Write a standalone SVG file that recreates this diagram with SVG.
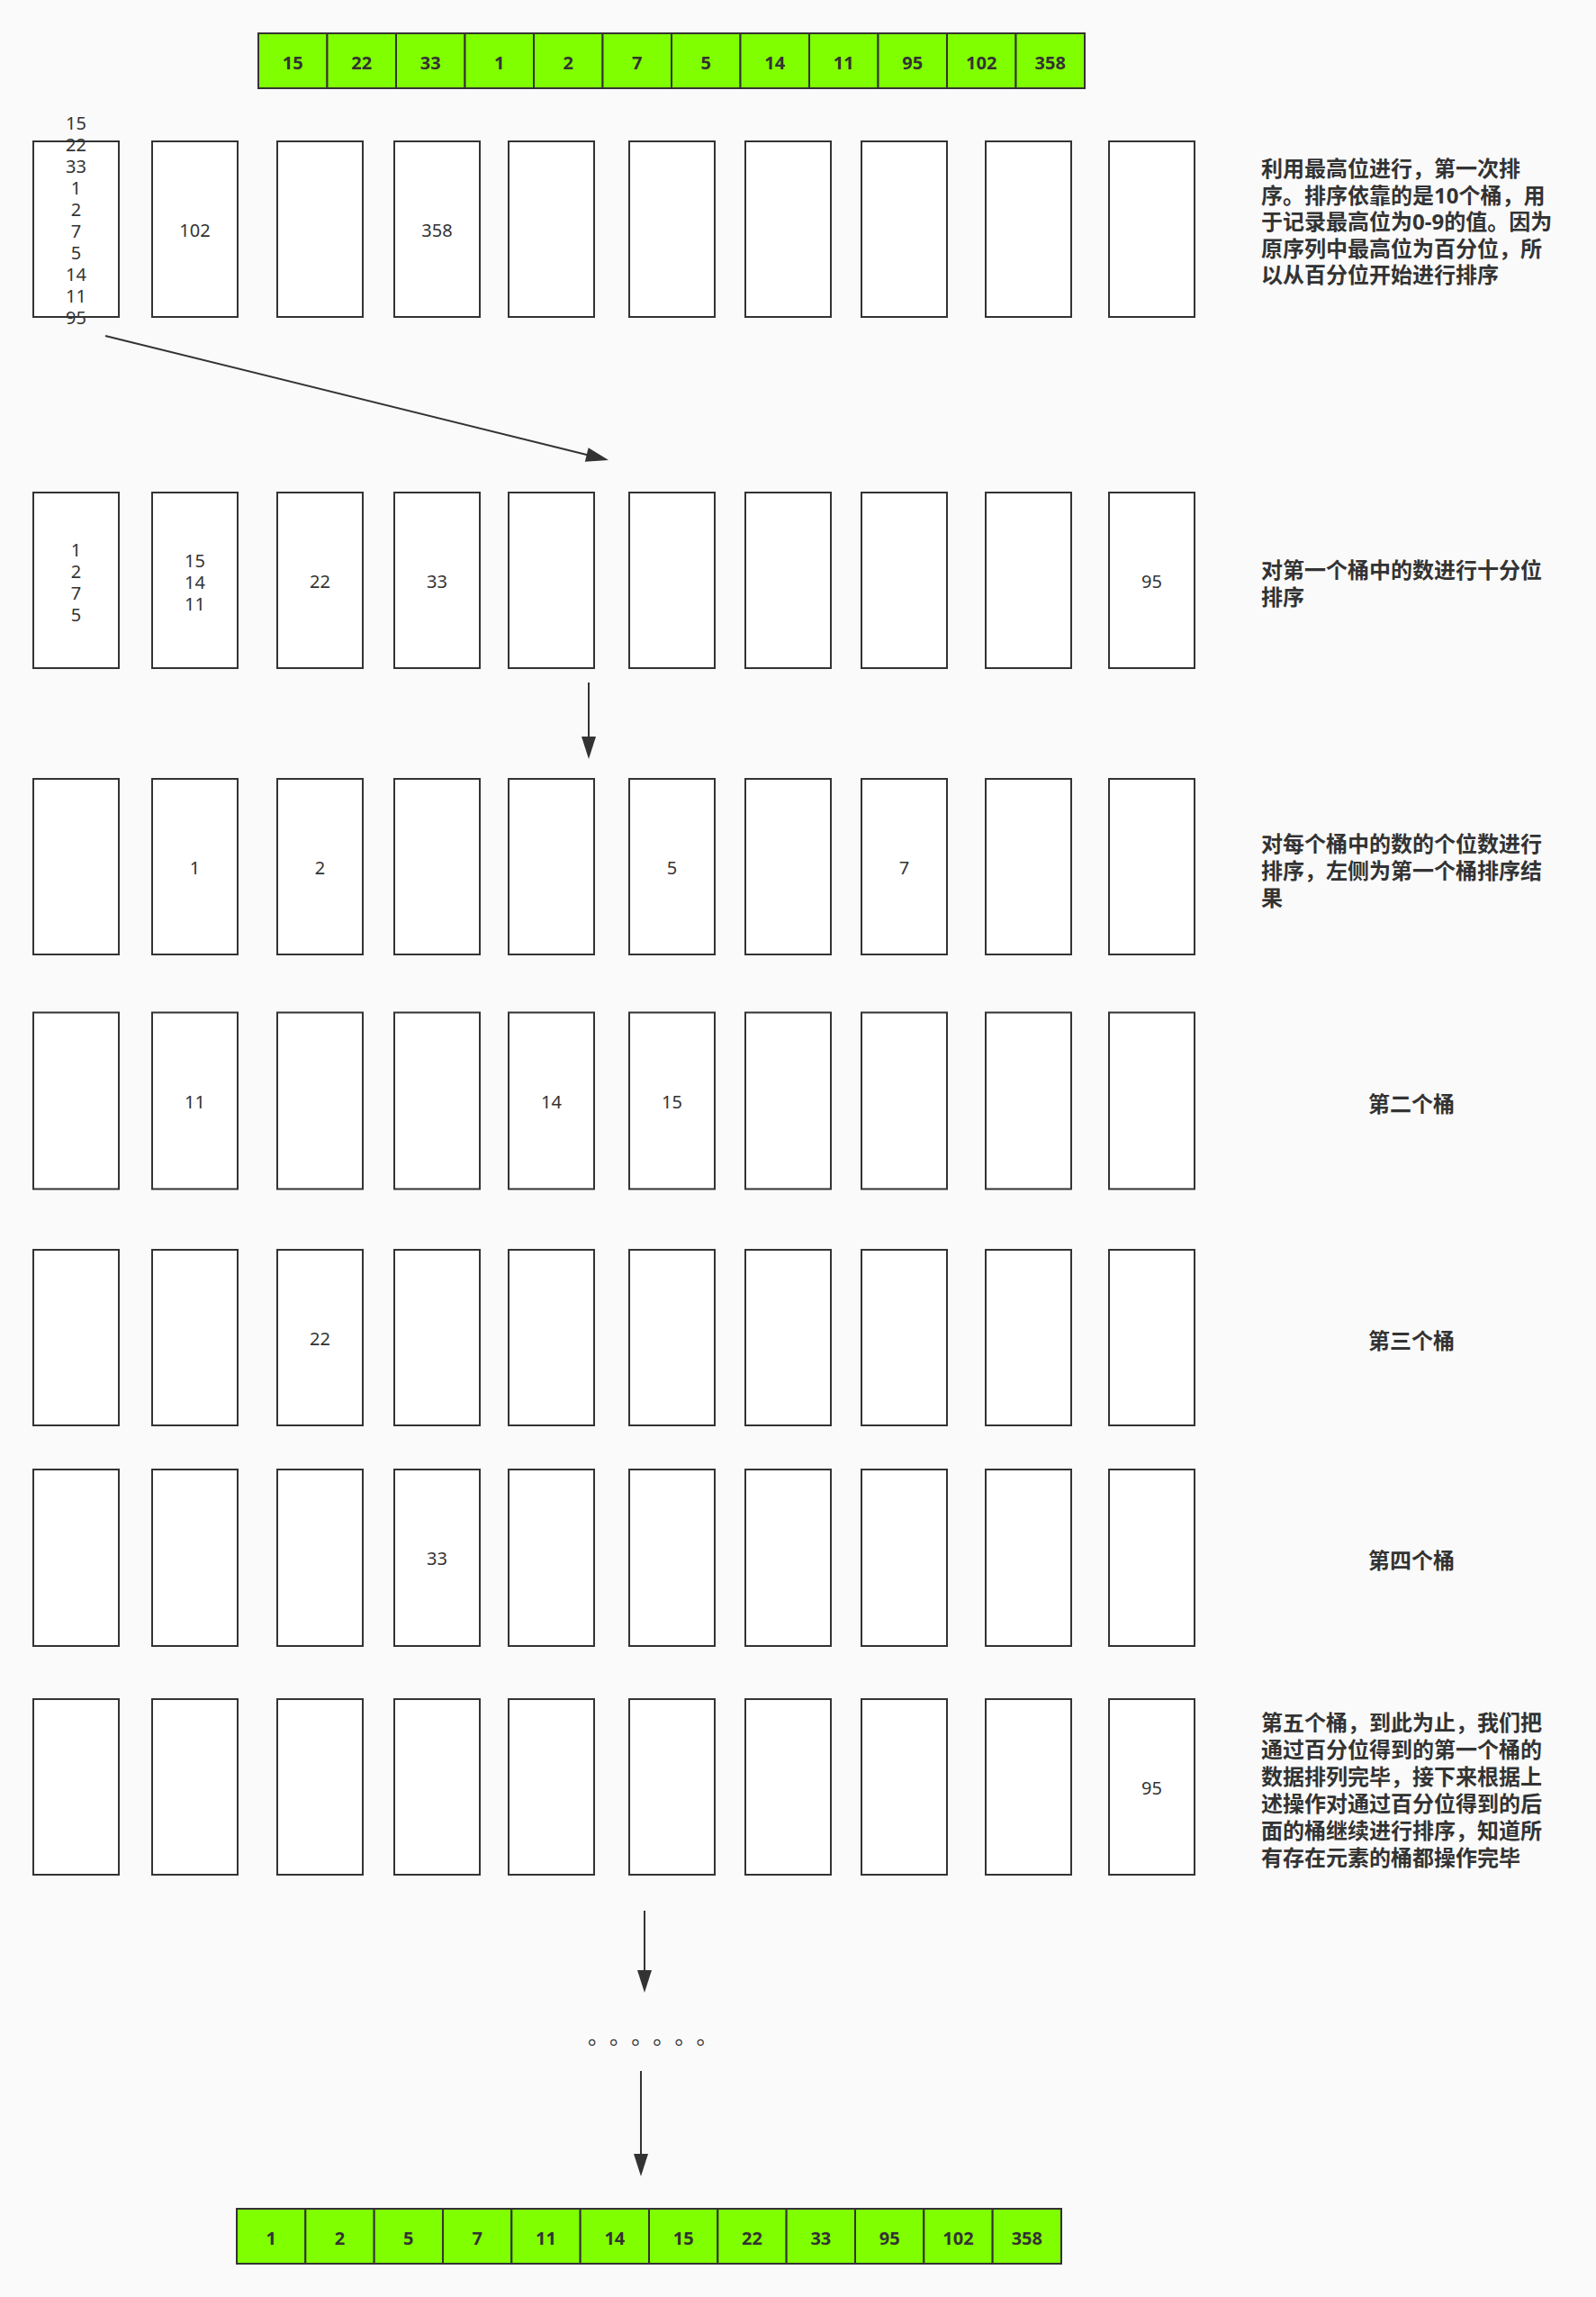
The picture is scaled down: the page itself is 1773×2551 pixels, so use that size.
<svg xmlns="http://www.w3.org/2000/svg" width="1773" height="2551" viewBox="0 0 1773 2551">
<style>
.bg{fill:#fafafa}
.box{fill:#ffffff;stroke:#333333;stroke-width:2}
.cell{fill:#80ff00;stroke:#333333;stroke-width:2}
.num{font-family:"Noto Sans","Noto Sans CJK SC",sans-serif;font-size:20px;fill:#333333;text-anchor:middle}
.cnum{font-family:"Noto Sans","Noto Sans CJK SC",sans-serif;font-size:20px;font-weight:bold;fill:#333333;text-anchor:middle}
.note{font-family:"Noto Sans","Noto Sans CJK SC",sans-serif;font-size:24px;font-weight:bold;fill:#333333}
.mid{text-anchor:middle}
.dots{font-family:"Noto Sans CJK SC",sans-serif;font-size:24px;fill:#333333}
.conn{stroke:#333333;stroke-width:2;fill:none}
</style>
<defs>
<marker id="arr" markerUnits="userSpaceOnUse" markerWidth="26" markerHeight="17" refX="1" refY="8" orient="auto" overflow="visible">
<path d="M0,0 L25,8 L0,16 Z" fill="#333333"/>
</marker>
</defs>
<rect class="bg" x="0" y="0" width="1773" height="2551"/>

<g id="input-array">
<rect class="cell" x="287" y="37" width="76.5" height="61"/><text class="cnum" x="325.25" y="77">15</text>
<rect class="cell" x="363.5" y="37" width="76.5" height="61"/><text class="cnum" x="401.75" y="77">22</text>
<rect class="cell" x="440" y="37" width="76.5" height="61"/><text class="cnum" x="478.25" y="77">33</text>
<rect class="cell" x="516.5" y="37" width="76.5" height="61"/><text class="cnum" x="554.75" y="77">1</text>
<rect class="cell" x="593" y="37" width="76.5" height="61"/><text class="cnum" x="631.25" y="77">2</text>
<rect class="cell" x="669.5" y="37" width="76.5" height="61"/><text class="cnum" x="707.75" y="77">7</text>
<rect class="cell" x="746" y="37" width="76.5" height="61"/><text class="cnum" x="784.25" y="77">5</text>
<rect class="cell" x="822.5" y="37" width="76.5" height="61"/><text class="cnum" x="860.75" y="77">14</text>
<rect class="cell" x="899" y="37" width="76.5" height="61"/><text class="cnum" x="937.25" y="77">11</text>
<rect class="cell" x="975.5" y="37" width="76.5" height="61"/><text class="cnum" x="1013.75" y="77">95</text>
<rect class="cell" x="1052" y="37" width="76.5" height="61"/><text class="cnum" x="1090.25" y="77">102</text>
<rect class="cell" x="1128.5" y="37" width="76.5" height="61"/><text class="cnum" x="1166.75" y="77">358</text>
</g>

<g id="row1">
<g id="r1b0"><rect class="box" x="37" y="157" width="95" height="195"/>
<text class="num" x="84.5" y="144">15</text><text class="num" x="84.5" y="168">22</text><text class="num" x="84.5" y="192">33</text><text class="num" x="84.5" y="216">1</text><text class="num" x="84.5" y="240">2</text><text class="num" x="84.5" y="264">7</text><text class="num" x="84.5" y="288">5</text><text class="num" x="84.5" y="312">14</text><text class="num" x="84.5" y="336">11</text><text class="num" x="84.5" y="360">95</text></g>
<g id="r1b1"><rect class="box" x="169" y="157" width="95" height="195"/><text class="num" x="216.5" y="263">102</text></g>
<g id="r1b2"><rect class="box" x="308" y="157" width="95" height="195"/></g>
<g id="r1b3"><rect class="box" x="438" y="157" width="95" height="195"/><text class="num" x="485.5" y="263">358</text></g>
<g id="r1b4"><rect class="box" x="565" y="157" width="95" height="195"/></g>
<g id="r1b5"><rect class="box" x="699" y="157" width="95" height="195"/></g>
<g id="r1b6"><rect class="box" x="828" y="157" width="95" height="195"/></g>
<g id="r1b7"><rect class="box" x="957" y="157" width="95" height="195"/></g>
<g id="r1b8"><rect class="box" x="1095" y="157" width="95" height="195"/></g>
<g id="r1b9"><rect class="box" x="1232" y="157" width="95" height="195"/></g>
</g>

<g id="row2">
<g id="r2b0"><rect class="box" x="37" y="547" width="95" height="195"/>
<text class="num" x="84.5" y="618">1</text><text class="num" x="84.5" y="642">2</text><text class="num" x="84.5" y="666">7</text><text class="num" x="84.5" y="690">5</text></g>
<g id="r2b1"><rect class="box" x="169" y="547" width="95" height="195"/>
<text class="num" x="216.5" y="630">15</text><text class="num" x="216.5" y="654">14</text><text class="num" x="216.5" y="678">11</text></g>
<g id="r2b2"><rect class="box" x="308" y="547" width="95" height="195"/><text class="num" x="355.5" y="653">22</text></g>
<g id="r2b3"><rect class="box" x="438" y="547" width="95" height="195"/><text class="num" x="485.5" y="653">33</text></g>
<g id="r2b4"><rect class="box" x="565" y="547" width="95" height="195"/></g>
<g id="r2b5"><rect class="box" x="699" y="547" width="95" height="195"/></g>
<g id="r2b6"><rect class="box" x="828" y="547" width="95" height="195"/></g>
<g id="r2b7"><rect class="box" x="957" y="547" width="95" height="195"/></g>
<g id="r2b8"><rect class="box" x="1095" y="547" width="95" height="195"/></g>
<g id="r2b9"><rect class="box" x="1232" y="547" width="95" height="195"/><text class="num" x="1279.5" y="653">95</text></g>
</g>

<g id="row3">
<g id="r3b0"><rect class="box" x="37" y="865" width="95" height="195"/></g>
<g id="r3b1"><rect class="box" x="169" y="865" width="95" height="195"/><text class="num" x="216.5" y="971">1</text></g>
<g id="r3b2"><rect class="box" x="308" y="865" width="95" height="195"/><text class="num" x="355.5" y="971">2</text></g>
<g id="r3b3"><rect class="box" x="438" y="865" width="95" height="195"/></g>
<g id="r3b4"><rect class="box" x="565" y="865" width="95" height="195"/></g>
<g id="r3b5"><rect class="box" x="699" y="865" width="95" height="195"/><text class="num" x="746.5" y="971">5</text></g>
<g id="r3b6"><rect class="box" x="828" y="865" width="95" height="195"/></g>
<g id="r3b7"><rect class="box" x="957" y="865" width="95" height="195"/><text class="num" x="1004.5" y="971">7</text></g>
<g id="r3b8"><rect class="box" x="1095" y="865" width="95" height="195"/></g>
<g id="r3b9"><rect class="box" x="1232" y="865" width="95" height="195"/></g>
</g>

<g id="row4">
<g id="r4b0"><rect class="box" x="37" y="1124.5" width="95" height="196"/></g>
<g id="r4b1"><rect class="box" x="169" y="1124.5" width="95" height="196"/><text class="num" x="216.5" y="1231">11</text></g>
<g id="r4b2"><rect class="box" x="308" y="1124.5" width="95" height="196"/></g>
<g id="r4b3"><rect class="box" x="438" y="1124.5" width="95" height="196"/></g>
<g id="r4b4"><rect class="box" x="565" y="1124.5" width="95" height="196"/><text class="num" x="612.5" y="1231">14</text></g>
<g id="r4b5"><rect class="box" x="699" y="1124.5" width="95" height="196"/><text class="num" x="746.5" y="1231">15</text></g>
<g id="r4b6"><rect class="box" x="828" y="1124.5" width="95" height="196"/></g>
<g id="r4b7"><rect class="box" x="957" y="1124.5" width="95" height="196"/></g>
<g id="r4b8"><rect class="box" x="1095" y="1124.5" width="95" height="196"/></g>
<g id="r4b9"><rect class="box" x="1232" y="1124.5" width="95" height="196"/></g>
</g>

<g id="row5">
<g id="r5b0"><rect class="box" x="37" y="1388" width="95" height="195"/></g>
<g id="r5b1"><rect class="box" x="169" y="1388" width="95" height="195"/></g>
<g id="r5b2"><rect class="box" x="308" y="1388" width="95" height="195"/><text class="num" x="355.5" y="1494">22</text></g>
<g id="r5b3"><rect class="box" x="438" y="1388" width="95" height="195"/></g>
<g id="r5b4"><rect class="box" x="565" y="1388" width="95" height="195"/></g>
<g id="r5b5"><rect class="box" x="699" y="1388" width="95" height="195"/></g>
<g id="r5b6"><rect class="box" x="828" y="1388" width="95" height="195"/></g>
<g id="r5b7"><rect class="box" x="957" y="1388" width="95" height="195"/></g>
<g id="r5b8"><rect class="box" x="1095" y="1388" width="95" height="195"/></g>
<g id="r5b9"><rect class="box" x="1232" y="1388" width="95" height="195"/></g>
</g>

<g id="row6">
<g id="r6b0"><rect class="box" x="37" y="1632" width="95" height="196"/></g>
<g id="r6b1"><rect class="box" x="169" y="1632" width="95" height="196"/></g>
<g id="r6b2"><rect class="box" x="308" y="1632" width="95" height="196"/></g>
<g id="r6b3"><rect class="box" x="438" y="1632" width="95" height="196"/><text class="num" x="485.5" y="1738">33</text></g>
<g id="r6b4"><rect class="box" x="565" y="1632" width="95" height="196"/></g>
<g id="r6b5"><rect class="box" x="699" y="1632" width="95" height="196"/></g>
<g id="r6b6"><rect class="box" x="828" y="1632" width="95" height="196"/></g>
<g id="r6b7"><rect class="box" x="957" y="1632" width="95" height="196"/></g>
<g id="r6b8"><rect class="box" x="1095" y="1632" width="95" height="196"/></g>
<g id="r6b9"><rect class="box" x="1232" y="1632" width="95" height="196"/></g>
</g>

<g id="row7">
<g id="r7b0"><rect class="box" x="37" y="1887" width="95" height="195"/></g>
<g id="r7b1"><rect class="box" x="169" y="1887" width="95" height="195"/></g>
<g id="r7b2"><rect class="box" x="308" y="1887" width="95" height="195"/></g>
<g id="r7b3"><rect class="box" x="438" y="1887" width="95" height="195"/></g>
<g id="r7b4"><rect class="box" x="565" y="1887" width="95" height="195"/></g>
<g id="r7b5"><rect class="box" x="699" y="1887" width="95" height="195"/></g>
<g id="r7b6"><rect class="box" x="828" y="1887" width="95" height="195"/></g>
<g id="r7b7"><rect class="box" x="957" y="1887" width="95" height="195"/></g>
<g id="r7b8"><rect class="box" x="1095" y="1887" width="95" height="195"/></g>
<g id="r7b9"><rect class="box" x="1232" y="1887" width="95" height="195"/><text class="num" x="1279.5" y="1993">95</text></g>
</g>

<g id="note1"><text class="note">
<tspan x="1401" y="196">利用最高位进行，第一次排</tspan>
<tspan x="1401" y="225.5">序。排序依靠的是10个桶，用</tspan>
<tspan x="1401" y="255">于记录最高位为0-9的值。因为</tspan>
<tspan x="1401" y="284.5">原序列中最高位为百分位，所</tspan>
<tspan x="1401" y="314">以从百分位开始进行排序</tspan>
</text></g>
<g id="note2"><text class="note">
<tspan x="1401" y="642">对第一个桶中的数进行十分位</tspan>
<tspan x="1401" y="672">排序</tspan>
</text></g>
<g id="note3"><text class="note">
<tspan x="1401" y="946">对每个桶中的数的个位数进行</tspan>
<tspan x="1401" y="976">排序，左侧为第一个桶排序结</tspan>
<tspan x="1401" y="1006">果</tspan>
</text></g>
<g id="note4"><text class="note mid" x="1568" y="1234.5">第二个桶</text></g>
<g id="note5"><text class="note mid" x="1568" y="1497.5">第三个桶</text></g>
<g id="note6"><text class="note mid" x="1568" y="1741.5">第四个桶</text></g>
<g id="note7"><text class="note">
<tspan x="1401" y="1922">第五个桶，到此为止，我们把</tspan>
<tspan x="1401" y="1952">通过百分位得到的第一个桶的</tspan>
<tspan x="1401" y="1982">数据排列完毕，接下来根据上</tspan>
<tspan x="1401" y="2012">述操作对通过百分位得到的后</tspan>
<tspan x="1401" y="2042">面的桶继续进行排序，知道所</tspan>
<tspan x="1401" y="2072">有存在元素的桶都操作完毕</tspan>
</text></g>

<g id="ellipsis"><text class="dots" x="653 677.1 701.2 725.3 749.4 773.5" y="2270">。。。。。。</text></g>

<g id="output-array">
<rect class="cell" x="263" y="2453" width="76.33" height="61"/><text class="cnum" x="301.17" y="2493">1</text>
<rect class="cell" x="339.33" y="2453" width="76.33" height="61"/><text class="cnum" x="377.5" y="2493">2</text>
<rect class="cell" x="415.67" y="2453" width="76.33" height="61"/><text class="cnum" x="453.83" y="2493">5</text>
<rect class="cell" x="492" y="2453" width="76.33" height="61"/><text class="cnum" x="530.17" y="2493">7</text>
<rect class="cell" x="568.33" y="2453" width="76.33" height="61"/><text class="cnum" x="606.5" y="2493">11</text>
<rect class="cell" x="644.67" y="2453" width="76.33" height="61"/><text class="cnum" x="682.83" y="2493">14</text>
<rect class="cell" x="721" y="2453" width="76.33" height="61"/><text class="cnum" x="759.17" y="2493">15</text>
<rect class="cell" x="797.33" y="2453" width="76.33" height="61"/><text class="cnum" x="835.5" y="2493">22</text>
<rect class="cell" x="873.67" y="2453" width="76.33" height="61"/><text class="cnum" x="911.83" y="2493">33</text>
<rect class="cell" x="950" y="2453" width="76.33" height="61"/><text class="cnum" x="988.17" y="2493">95</text>
<rect class="cell" x="1026.33" y="2453" width="76.33" height="61"/><text class="cnum" x="1064.5" y="2493">102</text>
<rect class="cell" x="1102.67" y="2453" width="76.33" height="61"/><text class="cnum" x="1140.83" y="2493">358</text>
</g>

<g id="connectors">
<line class="conn" x1="117" y1="373" x2="652.7" y2="505.2" marker-end="url(#arr)"/>
<line class="conn" x1="654" y1="758" x2="654" y2="819" marker-end="url(#arr)"/>
<line class="conn" x1="716" y1="2122" x2="716" y2="2189" marker-end="url(#arr)"/>
<line class="conn" x1="712" y1="2300" x2="712" y2="2393" marker-end="url(#arr)"/>
</g>
</svg>
